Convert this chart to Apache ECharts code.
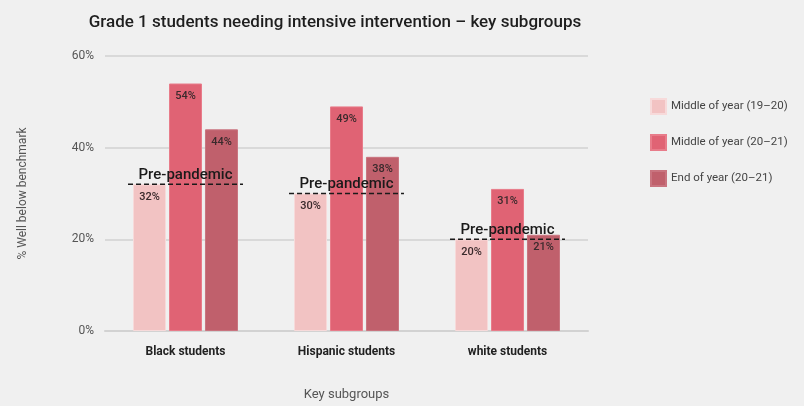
<!DOCTYPE html>
<html>
<head>
<meta charset="utf-8">
<script src="https://cdn.jsdelivr.net/npm/echarts@6/dist/echarts.min.js"></script>
<style>
  html, body { margin: 0; padding: 0; background: #f0f0f0; }
  #chart { width: 804px; height: 406px; }
</style>
</head>
<body>
<div id="chart"></div>
<script>
// Subgroups on the x axis
const categories = ['Black students', 'Hispanic students', 'white students'];

// Share of students well below benchmark (%)
const seriesNames = ['Middle of year (19\u201320)', 'Middle of year (20\u201321)', 'End of year (20\u201321)'];
const moy1920 = [32, 30, 20];
const moy2021 = [54, 49, 31];
const eoy2021 = [44, 38, 21];

// Pre-pandemic reference level per subgroup (the 19–20 baseline)
const prePandemic = [32, 30, 20];
const prePandemicLabel = 'Pre-pandemic';

const colors = ['#f2c3c3', '#e06374', '#c0606c'];

const chart = echarts.init(document.getElementById('chart'));

function barSeries(name, data, color, border) {
  return {
    name: name,
    type: 'bar',
    data: data,
    barWidth: 33,
    barGap: '9%',
    itemStyle: { color: color, borderColor: border, borderWidth: 1 },
    label: {
      show: true,
      position: 'insideTop',
      distance: 7,
      formatter: '{c}%',
      fontFamily: 'Roboto',
      fontSize: 11,
      fontWeight: 500,
      color: '#3a2a2c'
    }
  };
}

chart.setOption({
  backgroundColor: '#f0f0f0',
  animation: false,
  title: {
    text: 'Grade 1 students needing intensive intervention \u2013 key subgroups',
    left: 330,
    top: 9,
    textAlign: 'center',
    textStyle: { fontFamily: 'Roboto', fontSize: 17, fontWeight: 500, color: '#1e1e1e' }
  },
  legend: {
    orient: 'vertical',
    left: 645,
    top: 93,
    itemWidth: 15,
    itemHeight: 15,
    itemGap: 19,
    icon: 'rect',
    textStyle: { fontFamily: 'Roboto', fontSize: 11.5, color: '#444' },
    data: seriesNames
  },
  grid: { left: 105, right: 216, top: 56, bottom: 69.5 },
  xAxis: {
    type: 'category',
    data: categories,
    axisTick: { show: false },
    axisLine: { show: true, lineStyle: { color: '#d2d2d2', width: 2 } },
    axisLabel: { margin: 15, fontFamily: 'Roboto', fontSize: 12, fontWeight: 'bold', color: '#222' },
    name: 'Key subgroups',
    nameLocation: 'middle',
    nameGap: 57,
    nameTextStyle: { fontFamily: 'Roboto', fontSize: 13, color: '#555' }
  },
  yAxis: {
    type: 'value',
    min: 0,
    max: 60,
    interval: 20,
    axisLabel: { formatter: '{value}%', margin: 11, fontFamily: 'Roboto', fontSize: 12, color: '#555' },
    splitLine: { lineStyle: { color: '#d2d2d2', width: 1.5 } },
    axisLine: { show: false },
    axisTick: { show: false },
    name: '% Well below benchmark',
    nameLocation: 'middle',
    nameGap: 76,
    nameTextStyle: { fontFamily: 'Roboto', fontSize: 12, color: '#555' }
  },
  series: [
    barSeries(seriesNames[0], moy1920, colors[0], '#f7dada'),
    barSeries(seriesNames[1], moy2021, colors[1], '#e87c8a'),
    barSeries(seriesNames[2], eoy2021, colors[2], '#c9747f'),
    {
      // Dashed pre-pandemic level spanning each subgroup's bar cluster
      type: 'custom',
      z: 5,
      silent: true,
      data: prePandemic.map((v, i) => [i, v]),
      renderItem: function (params, api) {
        const p = api.coord([api.value(0), api.value(1)]);
        const band = api.size([1, 0])[0];
        const half = band * 0.357;
        return {
          type: 'group',
          children: [
            {
              type: 'line',
              shape: { x1: p[0] - half, y1: p[1], x2: p[0] + half, y2: p[1] },
              style: { stroke: '#1a1a1a', lineWidth: 1.5, lineDash: [5, 3] }
            },
            {
              type: 'text',
              style: {
                x: p[0],
                y: p[1] - 2,
                text: prePandemicLabel,
                textAlign: 'center',
                textVerticalAlign: 'bottom',
                fontFamily: 'Roboto',
                fontSize: 15,
                fontWeight: 500,
                fill: '#1a1a1a'
              }
            }
          ]
        };
      }
    }
  ]
});
</script>
</body>
</html>
